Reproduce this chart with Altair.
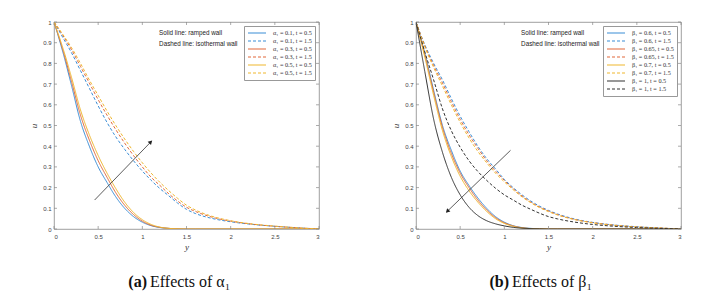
import altair as alt
import pandas as pd

# ---------------- data ----------------
X = [0, 0.1, 0.2, 0.3, 0.4, 0.5, 0.6, 0.7, 0.8, 0.9, 1.0, 1.1, 1.2, 1.3, 1.4, 1.5,
     1.6, 1.8, 2.0, 2.25, 2.5, 2.75, 3.0]

# panel (a): effects of alpha_1
a_labels = ["α₁ = 0.1, t = 0.5", "α₁ = 0.1, t = 1.5",
            "α₁ = 0.3, t = 0.5", "α₁ = 0.3, t = 1.5",
            "α₁ = 0.5, t = 0.5", "α₁ = 0.5, t = 1.5"]
a_s01 = [1, .855, .69, .52, .40, .30, .225, .155, .10, .06, .033, .016, .007, .003, .001, 0, 0, 0, 0, 0, 0, 0, 0]
a_d01 = [1, .925, .85, .765, .68, .595, .515, .445, .385, .33, .28, .235, .195, .16, .125, .095, .075, .05, .035, .022, .013, .006, 0]
a_s03 = [1, .865, .71, .55, .43, .33, .25, .175, .115, .07, .038, .018, .008, .003, .001, 0, 0, 0, 0, 0, 0, 0, 0]
a_d03 = [1, .935, .865, .785, .705, .625, .55, .48, .415, .355, .30, .25, .21, .17, .135, .105, .085, .056, .038, .023, .013, .006, 0]
a_s05 = [1, .875, .73, .575, .455, .355, .27, .195, .13, .08, .045, .022, .009, .003, .001, 0, 0, 0, 0, 0, 0, 0, 0]
a_d05 = [1, .94, .875, .80, .72, .645, .57, .50, .435, .375, .32, .27, .225, .185, .148, .115, .092, .06, .04, .024, .014, .006, 0]
a_series = [a_s01, a_d01, a_s03, a_d03, a_s05, a_d05]
a_colors = ["#3b8ed6", "#3b8ed6", "#e2693a", "#e2693a", "#efb72e", "#efb72e"]

# panel (b): effects of beta_1
b_labels = ["β₁ = 0.6, t = 0.5", "β₁ = 0.6, t = 1.5",
            "β₁ = 0.65, t = 0.5", "β₁ = 0.65, t = 1.5",
            "β₁ = 0.7, t = 0.5", "β₁ = 0.7, t = 1.5",
            "β₁ = 1, t = 0.5", "β₁ = 1, t = 1.5"]
b_s06 = [1, .85, .67, .50, .38, .28, .21, .15, .10, .06, .033, .016, .007, .003, .001, 0, 0, 0, 0, 0, 0, 0, 0]
b_d06 = [1, .89, .80, .72, .63, .545, .47, .40, .34, .29, .24, .20, .165, .135, .11, .09, .073, .048, .032, .019, .011, .005, 0]
b_s065 = [1, .84, .66, .49, .365, .27, .20, .14, .092, .055, .03, .015, .006, .002, .001, 0, 0, 0, 0, 0, 0, 0, 0]
b_d065 = [1, .885, .79, .705, .615, .53, .455, .39, .33, .28, .235, .195, .16, .13, .106, .087, .07, .046, .031, .018, .01, .005, 0]
b_s07 = [1, .83, .645, .475, .35, .255, .185, .13, .085, .05, .027, .013, .005, .002, .001, 0, 0, 0, 0, 0, 0, 0, 0]
b_d07 = [1, .88, .78, .69, .60, .515, .44, .375, .32, .27, .228, .19, .155, .127, .103, .084, .068, .045, .03, .018, .01, .005, 0]
b_s1 = [1, .76, .53, .37, .25, .165, .105, .065, .04, .025, .015, .008, .004, .002, .001, 0, 0, 0, 0, 0, 0, 0, 0]
b_d1 = [1, .855, .72, .58, .475, .395, .33, .278, .235, .197, .165, .14, .115, .095, .076, .06, .049, .033, .022, .013, .007, .003, 0]
b_series = [b_s06, b_d06, b_s065, b_d065, b_s07, b_d07, b_s1, b_d1]
b_colors = ["#3b8ed6", "#3b8ed6", "#e2693a", "#e2693a", "#efb72e", "#efb72e", "#333333", "#333333"]

# arrows: (x_start, y_start, x_end, y_end)
a_arrow = [0.46, 0.14, 1.09, 0.418]
b_arrow = [1.07, 0.38, 0.36, 0.088]

XT = [0, 0.5, 1, 1.5, 2, 2.5, 3]
YT = [0, 0.1, 0.2, 0.3, 0.4, 0.5, 0.6, 0.7, 0.8, 0.9, 1]

W, H = 265, 207
SERIF = "Liberation Serif"
SANS = "Liberation Sans"


def long_df(labels, series):
    rows = []
    for lab, vals in zip(labels, series):
        for xv, yv in zip(X, vals):
            rows.append({"y": xv, "u": yv, "s": lab})
    return pd.DataFrame(rows)


def panel(labels, series, colors, arrow, arrow_angle, cap_a, cap_b):
    df = long_df(labels, series)
    dashes = [[1, 0] if "t = 0.5" in l else [3, 2] for l in labels]
    xs = alt.Scale(domain=[0, 3], nice=False)
    ys = alt.Scale(domain=[0, 1], nice=False)
    xax = alt.Axis(values=XT, format="~g", title="y", grid=False, ticks=False,
                   domain=False, labelPadding=4, titlePadding=3, labelOverlap=False,
                   titleFont=SERIF, titleFontStyle="italic", titleFontWeight="normal",
                   titleFontSize=9, labelFont=SANS, labelFontSize=6, labelColor="#444",
                   titleColor="#333")
    yax = alt.Axis(values=YT, format="~g", title="u", grid=False, ticks=False,
                   domain=False, labelPadding=3, titlePadding=4, labelOverlap=False,
                   titleFont=SERIF, titleFontStyle="italic", titleFontWeight="normal",
                   titleFontSize=9, labelFont=SANS, labelFontSize=6, labelColor="#444",
                   titleColor="#333")

    def X_(f):
        return alt.X(f, scale=xs, axis=xax, title="y")

    def Y_(f):
        return alt.Y(f, scale=ys, axis=yax, title="u")

    lines = alt.Chart(df).mark_line(strokeWidth=1, interpolate="monotone", clip=True).encode(
        x=X_("y:Q"),
        y=Y_("u:Q"),
        color=alt.Color("s:N", scale=alt.Scale(domain=labels, range=colors),
                        sort=labels, title=None,
                        legend=alt.Legend(orient="top-right", offset=4, fillColor="white",
                                          strokeColor="#999", padding=3,
                                          symbolType="M-3,0H3", symbolSize=36,
                                          symbolStrokeWidth=1.1, symbolOffset=6,
                                          symbolFillColor="transparent",
                                          labelFont=SERIF, labelFontSize=6.2,
                                          labelColor="#333", rowPadding=-0.8,
                                          labelOffset=12, labelLimit=200)),
        strokeDash=alt.StrokeDash("s:N", scale=alt.Scale(domain=labels, range=dashes),
                                  sort=labels, title=None),
        detail="s:N",
    )
    adf = pd.DataFrame([{"x1": arrow[0], "y1": arrow[1], "x2": arrow[2], "y2": arrow[3]}])
    arr = alt.Chart(adf).mark_rule(color="#333", strokeWidth=0.8).encode(
        x=X_("x1:Q"), y=Y_("y1:Q"), x2="x2:Q", y2="y2:Q")
    head = alt.Chart(adf).mark_point(shape="triangle", filled=True, color="#222",
                                     size=22, angle=arrow_angle, opacity=1).encode(
        x=X_("x2:Q"), y=Y_("y2:Q"))
    tdf = pd.DataFrame([{"x": 1.19, "u": 0.945, "t": "Solid line: ramped wall"},
                        {"x": 1.19, "u": 0.893, "t": "Dashed line: isothermal wall"}])
    notes = alt.Chart(tdf).mark_text(align="left", baseline="middle", font=SANS,
                                     fontSize=6.3, color="#222").encode(
        x=X_("x:Q"), y=Y_("u:Q"), text="t:N")
    xt = pd.DataFrame({"v": XT})
    yt = pd.DataFrame({"v": YT})
    tick_style = dict(color="#888", strokeWidth=0.7)
    yl = alt.Chart(yt).mark_rule(**tick_style).encode(
        y=Y_("v:Q"), x=alt.value(0), x2=alt.value(3))
    yr = alt.Chart(yt).mark_rule(**tick_style).encode(
        y=Y_("v:Q"), x=alt.value(W - 3), x2=alt.value(W))
    xb = alt.Chart(xt).mark_rule(**tick_style).encode(
        x=X_("v:Q"), y=alt.value(H), y2=alt.value(H - 3))
    xtp = alt.Chart(xt).mark_rule(**tick_style).encode(
        x=X_("v:Q"), y=alt.value(0), y2=alt.value(3))
    capdf = pd.DataFrame([{"a": cap_a, "b": cap_b}])
    c1 = alt.Chart(capdf).mark_text(align="right", baseline="alphabetic", font=SERIF,
                                    fontSize=16, fontWeight="bold", color="#111").encode(
        text="a:N", x=alt.value(93), y=alt.value(265))
    c2 = alt.Chart(capdf).mark_text(align="left", baseline="alphabetic", font=SERIF,
                                    fontSize=16, color="#111", dx=3).encode(
        text="b:N", x=alt.value(93), y=alt.value(265))
    return alt.layer(lines, yl, yr, xb, xtp, arr, head, notes, c1, c2).properties(
        width=W, height=H)


left = panel(a_labels, a_series, a_colors, a_arrow, 44, "(a)", "Effects of α₁")
right = panel(b_labels, b_series, b_colors, b_arrow, 226, "(b)", "Effects of β₁")

chart = alt.hconcat(left, right, spacing=71).resolve_scale(
    color="independent", strokeDash="independent"
).properties(
    padding={"left": 21, "top": 10, "right": 5, "bottom": 0}
).configure_view(stroke="#888", strokeWidth=0.8)

chart.save("out.html", embed_options={"renderer": "svg", "actions": False})
